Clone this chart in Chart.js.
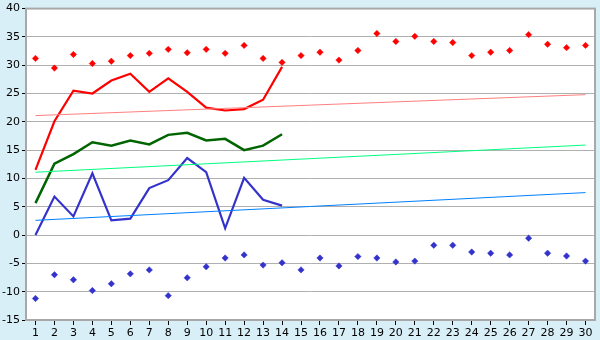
<!DOCTYPE html>
<html>
<head>
<meta charset="utf-8">
<script src="https://cdn.jsdelivr.net/npm/chart.js@4/dist/chart.umd.min.js"></script>
<style>
  body { margin: 0; background: #d9eff7; }
  canvas { display: block; }
</style>
</head>
<body>
<canvas id="myChart" width="600" height="340"></canvas>
<script>
// days of the month
var days = [];
for (var d = 1; d <= 30; d++) days.push(String(d));

// daily maximum (markers)
var maxValues = [31.2, 29.5, 31.9, 30.3, 30.7, 31.7, 32.1, 32.8, 32.2, 32.8,
                 32.1, 33.5, 31.2, 30.5, 31.7, 32.3, 30.9, 32.6, 35.6, 34.2,
                 35.1, 34.2, 34.0, 31.7, 32.3, 32.6, 35.4, 33.7, 33.1, 33.5];
// daily minimum (markers)
var minValues = [-11.2, -7.0, -7.9, -9.8, -8.6, -6.85, -6.15, -10.7, -7.55, -5.6,
                 -4.05, -3.5, -5.3, -4.9, -6.15, -4.05, -5.45, -3.8, -4.05, -4.75,
                 -4.6, -1.8, -1.8, -3.0, -3.2, -3.5, -0.55, -3.2, -3.7, -4.6];

// measured lines, first 14 days
var redLine   = [11.5, 20.1, 25.5, 25.0, 27.3, 28.5, 25.3, 27.7, 25.3, 22.5, 22.0, 22.25, 23.9, 29.7];
var greenLine = [5.65, 12.6, 14.3, 16.4, 15.8, 16.7, 16.0, 17.7, 18.05, 16.7, 17.0, 15.0, 15.8, 17.8];
var blueLine  = [0.0, 6.8, 3.3, 10.9, 2.6, 2.9, 8.3, 9.7, 13.6, 11.1, 1.2, 10.1, 6.25, 5.2];

// trend lines: value on day 1 and day 30
var redTrend   = [21.1, 24.8];
var greenTrend = [11.1, 15.9];
var blueTrend  = [2.6, 7.5];

var yTicks = { min: -15, max: 40, step: 5 };

function trendData(t) {
    var out = [];
    for (var i = 0; i < days.length; i++) out.push(null);
    out[0] = t[0];
    out[days.length - 1] = t[1];
    return out;
}

var frame = {
    id: 'frame',
    beforeDraw: function(chart) {
        var c = chart.ctx, a = chart.chartArea;
        c.save();
        c.fillStyle = '#d9eff7';
        c.fillRect(0, 0, chart.width, chart.height);
        c.fillStyle = '#ffffff';
        c.fillRect(a.left, a.top, a.right - a.left, a.bottom - a.top);
        c.restore();
    },
    afterDatasetsDraw: function(chart) {
        var c = chart.ctx, a = chart.chartArea;
        c.save();
        c.strokeStyle = '#a8a8a8';
        c.lineWidth = 2;
        c.strokeRect(a.left, a.top, a.right - a.left, a.bottom - a.top);
        c.restore();
    }
};

Chart.defaults.font.family = 'DejaVu Sans';
Chart.defaults.font.size = 11;
Chart.defaults.color = '#000000';

var myChart = new Chart('myChart', {
    type: 'line',
    data: {
        labels: days,
        datasets: [
            { data: trendData(redTrend), borderColor: '#ff8080', borderWidth: 1, pointRadius: 0, spanGaps: true },
            { data: trendData(greenTrend), borderColor: '#00ff80', borderWidth: 1, pointRadius: 0, spanGaps: true },
            { data: trendData(blueTrend), borderColor: '#0080ff', borderWidth: 1, pointRadius: 0, spanGaps: true },
            { data: redLine, borderColor: '#ff0000', borderWidth: 2.2, pointRadius: 0 },
            { data: greenLine, borderColor: '#006400', borderWidth: 2.5, pointRadius: 0 },
            { data: blueLine, borderColor: '#3333cc', borderWidth: 2.2, pointRadius: 0 },
            { data: maxValues, showLine: false, pointStyle: 'rectRot', pointRadius: 3.2,
              backgroundColor: '#ff0000', borderColor: '#ff0000', borderWidth: 0.5 },
            { data: minValues, showLine: false, pointStyle: 'rectRot', pointRadius: 3.2,
              backgroundColor: '#3333cc', borderColor: '#3333cc', borderWidth: 0.5 }
        ]
    },
    options: {
        responsive: false,
        animation: false,
        devicePixelRatio: 1,
        layout: { padding: { top: 5, right: 5, left: 0, bottom: 0 } },
        plugins: { legend: { display: false }, tooltip: { enabled: false } },
        elements: { line: { tension: 0 } },
        scales: {
            x: {
                offset: true,
                grid: { offset: false, drawOnChartArea: false, drawTicks: true, tickLength: 5, color: '#000000' },
                border: { display: false },
                ticks: { padding: 2, maxRotation: 0, autoSkip: false },
                afterFit: function(s) { s.height = 20; }
            },
            y: {
                min: yTicks.min,
                max: yTicks.max,
                ticks: { stepSize: yTicks.step, padding: 2 },
                grid: { color: '#b0b0b0', lineWidth: 1, tickLength: 4, tickColor: '#000000' },
                border: { display: false },
                afterFit: function(s) { s.width = 26; }
            }
        }
    },
    plugins: [frame]
});
</script>
</body>
</html>
